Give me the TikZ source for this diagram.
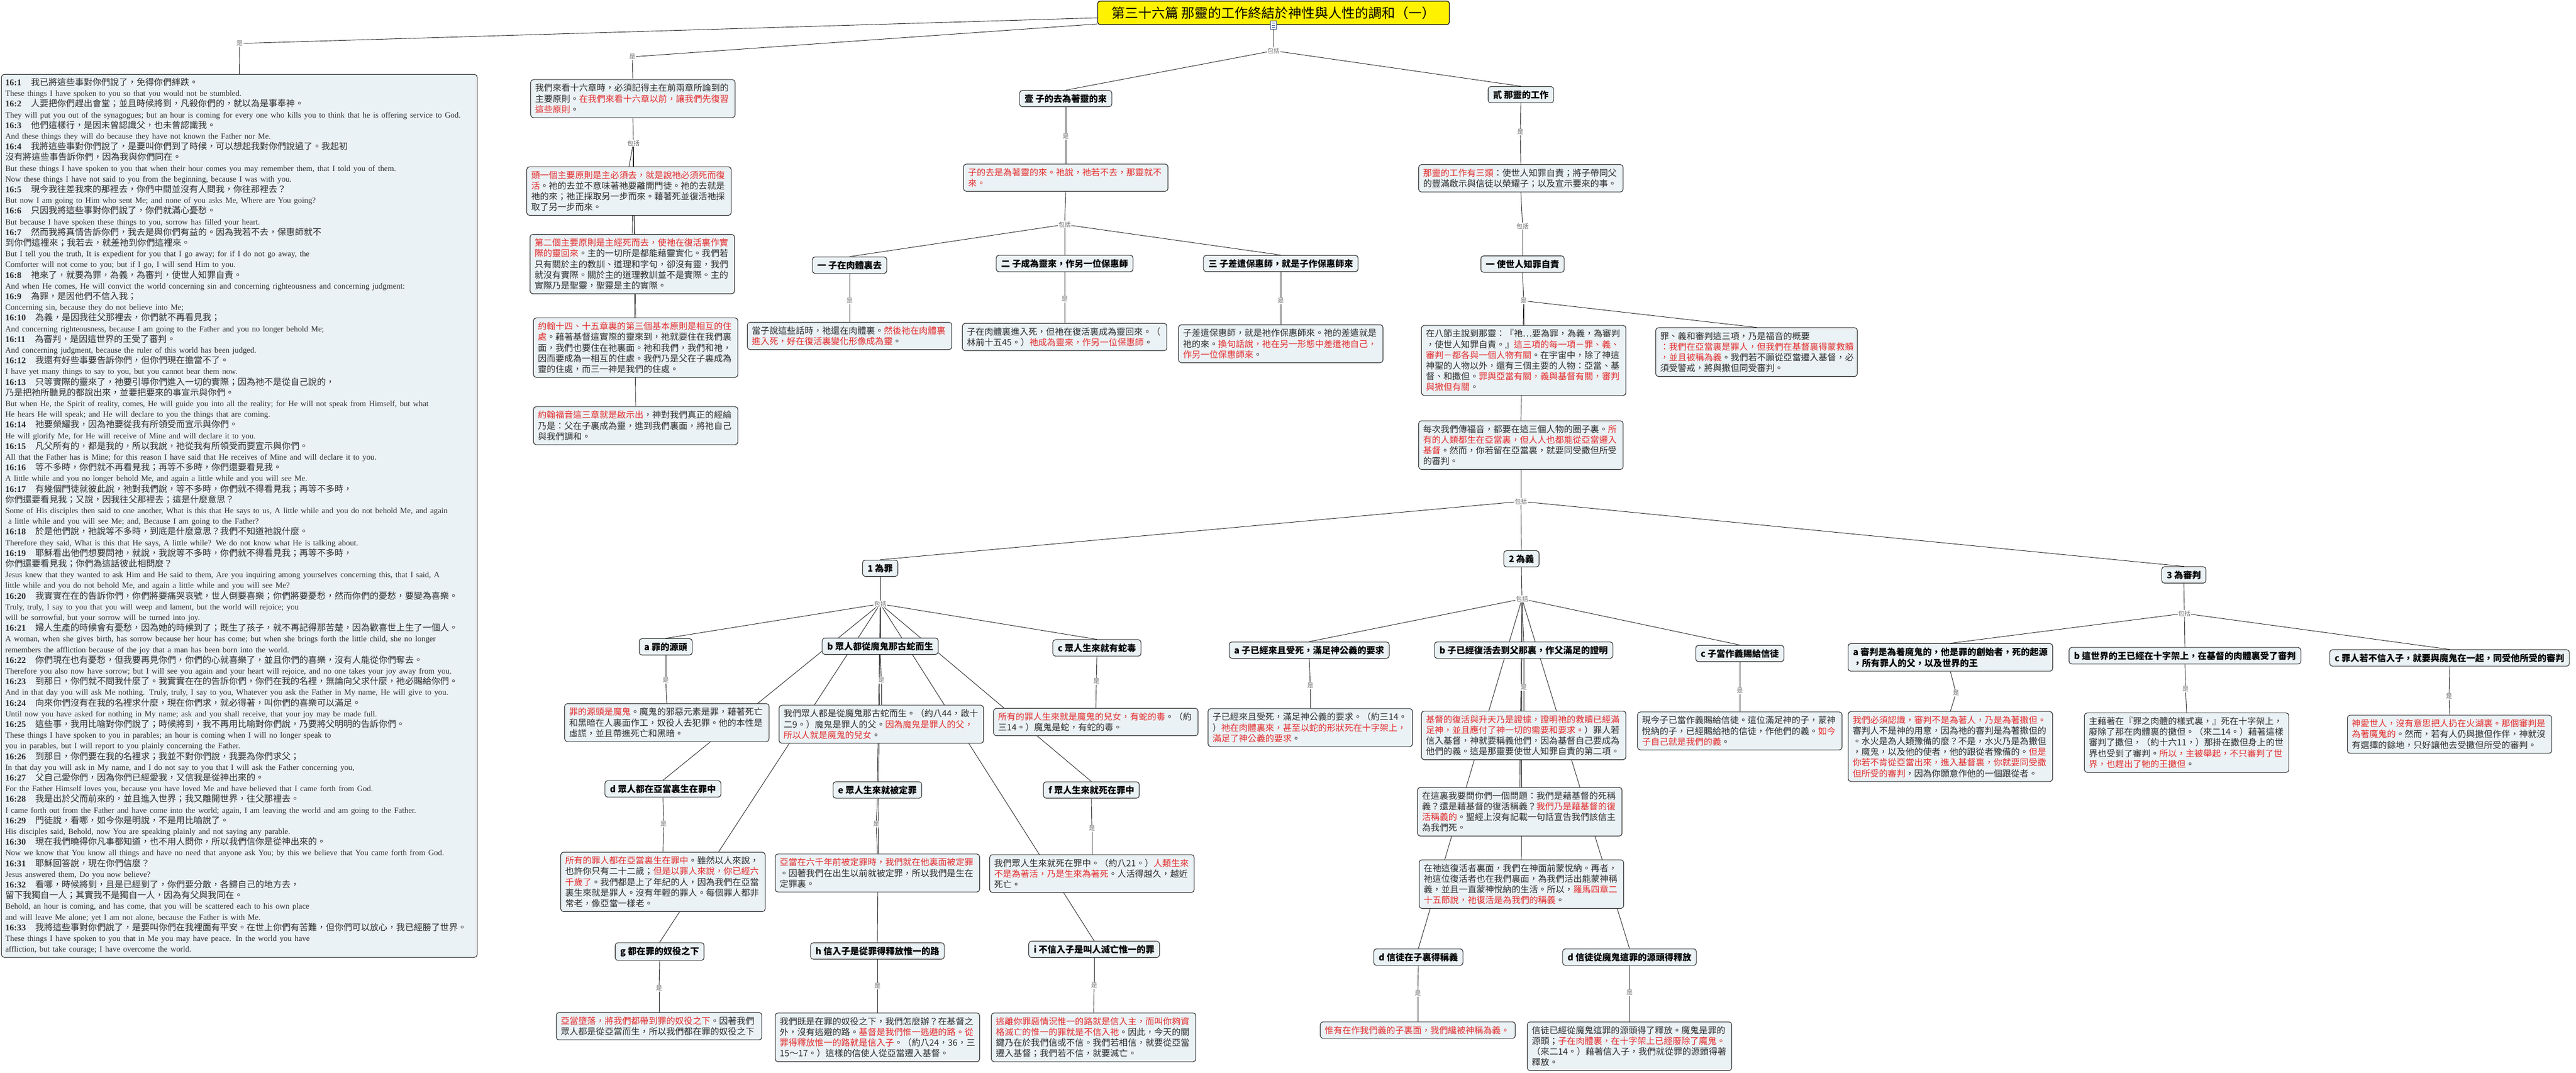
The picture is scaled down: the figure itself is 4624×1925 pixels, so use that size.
\documentclass[tikz,border=0pt]{standalone}
\usepackage{fontspec}
\setmainfont{Noto Sans CJK TC}
\newfontfamily\en{Liberation Serif}

\definecolor{boxfill}{RGB}{235,242,245}
\definecolor{boxline}{RGB}{45,45,45}
\definecolor{txt}{RGB}{45,45,45}
\definecolor{hlred}{RGB}{228,45,45}
\definecolor{lblgray}{RGB}{110,110,110}
\definecolor{linkgray}{RGB}{35,35,35}
\definecolor{iconblue}{RGB}{40,70,130}

\pgfdeclarelayer{bg}
\pgfsetlayers{bg,main}

% red passages and verse numbers
\newcommand\redtx[1]{{\color{hlred}#1}}
\newcommand\vnum[1]{{\en\bfseries #1}\hspace{17pt}}
\newcommand\entx[1]{{\en\fontsize{14.4}{19.2}\selectfont #1}}

\begin{document}
\begin{tikzpicture}[%
    x=1pt, y=-1pt,              % pixel grid, top-down
    ]
% -------------------------------------------------
% Box styles
\tikzset{
  descbox/.style={draw=boxline, fill=boxfill, rounded corners=5pt, line width=1.1pt,
    align=left, text=txt, inner xsep=8pt, inner ysep=7.5pt,
    font=\fontsize{15.8}{19.2}\selectfont, text width=#1},
  descbox/.default=351pt,
  headbox/.style={draw=boxline, fill=boxfill, rounded corners=5pt, line width=1.1pt,
    align=left, text=black, inner xsep=9pt, inner ysep=7pt,
    font=\bfseries\fontsize{16}{20}\selectfont},
  lbl/.style={fill=white, inner sep=1pt, text=lblgray, font=\fontsize{11}{12}\selectfont},
  link/.style={draw=linkgray, line width=0.9pt}
}
\useasboundingbox (0,0) rectangle (4624,1925);
% -------------------------------------------------
% Title
\node [draw=black, fill=yellow, rounded corners=4pt, line width=1.1pt,
  minimum width=631pt, minimum height=42pt, font=\fontsize{24}{28}\selectfont]
  (root) at (2286,23) {第三十六篇 那靈的工作終結於神性與人性的調和（一）};
\node [draw=iconblue, fill=white, minimum width=11pt, minimum height=15pt,
  inner sep=0pt, line width=0.8pt,
  path picture={\foreach \dy in {-4,0,4}
    \draw[iconblue, line width=0.7pt] ([xshift=2.5pt, yshift=\dy pt]path picture bounding box.west)
      -- ([xshift=-2.5pt, yshift=\dy pt]path picture bounding box.east);}]
  (note) at (2286,45) {};

% -------------------------------------------------
% Scripture text on the left
\node [lbl] (kv) at (430,78) {是};
\node [descbox=840pt, inner xsep=7pt, inner ysep=6.5pt, anchor=north west] (verses) at (2,133) {%
\vnum{16:1}我已將這些事對你們說了，免得你們絆跌。\\
\entx{These things I have spoken to you so that you would not be stumbled.}\\
\vnum{16:2}人要把你們趕出會堂；並且時候將到，凡殺你們的，就以為是事奉神。\\
\entx{They will put you out of the synagogues; but an hour is coming for every one who kills you to think that he is offering service to God.}\\
\vnum{16:3}他們這樣行，是因未曾認識父，也未曾認識我。\\
\entx{And these things they will do because they have not known the Father nor Me.}\\
\vnum{16:4}我將這些事對你們說了，是要叫你們到了時候，可以想起我對你們說過了。我起初\\
沒有將這些事告訴你們，因為我與你們同在。\\
\entx{But these things I have spoken to you that when their hour comes you may remember them, that I told you of them.}\\
\entx{Now these things I have not said to you from the beginning, because I was with you.}\\
\vnum{16:5}現今我往差我來的那裡去，你們中間並沒有人問我，你往那裡去？\\
\entx{But now I am going to Him who sent Me; and none of you asks Me, Where are You going?}\\
\vnum{16:6}只因我將這些事對你們說了，你們就滿心憂愁。\\
\entx{But because I have spoken these things to you, sorrow has filled your heart.}\\
\vnum{16:7}然而我將真情告訴你們，我去是與你們有益的。因為我若不去，保惠師就不\\
到你們這裡來；我若去，就差祂到你們這裡來。\\
\entx{But I tell you the truth, It is expedient for you that I go away; for if I do not go away, the}\\
\entx{Comforter will not come to you; but if I go, I will send Him to you.}\\
\vnum{16:8}祂來了，就要為罪，為義，為審判，使世人知罪自責。\\
\entx{And when He comes, He will convict the world concerning sin and concerning righteousness and concerning judgment:}\\
\vnum{16:9}為罪，是因他們不信入我；\\
\entx{Concerning sin, because they do not believe into Me;}\\
\vnum{16:10}為義，是因我往父那裡去，你們就不再看見我；\\
\entx{And concerning righteousness, because I am going to the Father and you no longer behold Me;}\\
\vnum{16:11}為審判，是因這世界的王受了審判。\\
\entx{And concerning judgment, because the ruler of this world has been judged.}\\
\vnum{16:12}我還有好些事要告訴你們，但你們現在擔當不了。\\
\entx{I have yet many things to say to you, but you cannot bear them now.}\\
\vnum{16:13}只等實際的靈來了，祂要引導你們進入一切的實際；因為祂不是從自己說的，\\
乃是把祂所聽見的都說出來，並要把要來的事宣示與你們。\\
\entx{But when He, the Spirit of reality, comes, He will guide you into all the reality; for He will not speak from Himself, but what}\\
\entx{He hears He will speak; and He will declare to you the things that are coming.}\\
\vnum{16:14}祂要榮耀我，因為祂要從我有所領受而宣示與你們。\\
\entx{He will glorify Me, for He will receive of Mine and will declare it to you.}\\
\vnum{16:15}凡父所有的，都是我的，所以我說，祂從我有所領受而要宣示與你們。\\
\entx{All that the Father has is Mine; for this reason I have said that He receives of Mine and will declare it to you.}\\
\vnum{16:16}等不多時，你們就不再看見我；再等不多時，你們還要看見我。\\
\entx{A little while and you no longer behold Me, and again a little while and you will see Me.}\\
\vnum{16:17}有幾個門徒就彼此說，祂對我們說，等不多時，你們就不得看見我；再等不多時，\\
你們還要看見我；又說，因我往父那裡去；這是什麼意思？\\
\entx{Some of His disciples then said to one another, What is this that He says to us, A little while and you do not behold Me, and again}\\
\entx{\ a little while and you will see Me; and, Because I am going to the Father?}\\
\vnum{16:18}於是他們說，祂說等不多時，到底是什麼意思？我們不知道祂說什麼。\\
\entx{Therefore they said, What is this that He says, A little while? We do not know what He is talking about.}\\
\vnum{16:19}耶穌看出他們想要問祂，就說，我說等不多時，你們就不得看見我；再等不多時，\\
你們還要看見我；你們為這話彼此相問麼？\\
\entx{Jesus knew that they wanted to ask Him and He said to them, Are you inquiring among yourselves concerning this, that I said, A}\\
\entx{little while and you do not behold Me, and again a little while and you will see Me?}\\
\vnum{16:20}我實實在在的告訴你們，你們將要痛哭哀號，世人倒要喜樂；你們將要憂愁，然而你們的憂愁，要變為喜樂。\\
\entx{Truly, truly, I say to you that you will weep and lament, but the world will rejoice; you}\\
\entx{will be sorrowful, but your sorrow will be turned into joy.}\\
\vnum{16:21}婦人生產的時候會有憂愁，因為她的時候到了；既生了孩子，就不再記得那苦楚，因為歡喜世上生了一個人。\\
\entx{A woman, when she gives birth, has sorrow because her hour has come; but when she brings forth the little child, she no longer}\\
\entx{remembers the affliction because of the joy that a man has been born into the world.}\\
\vnum{16:22}你們現在也有憂愁，但我要再見你們，你們的心就喜樂了，並且你們的喜樂，沒有人能從你們奪去。\\
\entx{Therefore you also now have sorrow; but I will see you again and your heart will rejoice, and no one takes your joy away from you.}\\
\vnum{16:23}到那日，你們就不問我什麼了。我實實在在的告訴你們，你們在我的名裡，無論向父求什麼，祂必賜給你們。\\
\entx{And in that day you will ask Me nothing. Truly, truly, I say to you, Whatever you ask the Father in My name, He will give to you.}\\
\vnum{16:24}向來你們沒有在我的名裡求什麼，現在你們求，就必得著，叫你們的喜樂可以滿足。\\
\entx{Until now you have asked for nothing in My name; ask and you shall receive, that your joy may be made full.}\\
\vnum{16:25}這些事，我用比喻對你們說了；時候將到，我不再用比喻對你們說，乃要將父明明的告訴你們。\\
\entx{These things I have spoken to you in parables; an hour is coming when I will no longer speak to}\\
\entx{you in parables, but I will report to you plainly concerning the Father.}\\
\vnum{16:26}到那日，你們要在我的名裡求；我並不對你們說，我要為你們求父；\\
\entx{In that day you will ask in My name, and I do not say to you that I will ask the Father concerning you,}\\
\vnum{16:27}父自己愛你們，因為你們已經愛我，又信我是從神出來的。\\
\entx{For the Father Himself loves you, because you have loved Me and have believed that I came forth from God.}\\
\vnum{16:28}我是出於父而前來的，並且進入世界；我又離開世界，往父那裡去。\\
\entx{I came forth out from the Father and have come into the world; again, I am leaving the world and am going to the Father.}\\
\vnum{16:29}門徒說，看哪，如今你是明說，不是用比喻說了。\\
\entx{His disciples said, Behold, now You are speaking plainly and not saying any parable.}\\
\vnum{16:30}現在我們曉得你凡事都知道，也不用人問你，所以我們信你是從神出來的。\\
\entx{Now we know that You know all things and have no need that anyone ask You; by this we believe that You came forth from God.}\\
\vnum{16:31}耶穌回答說，現在你們信麼？\\
\entx{Jesus answered them, Do you now believe?}\\
\vnum{16:32}看哪，時候將到，且是已經到了，你們要分散，各歸自己的地方去，\\
留下我獨自一人；其實我不是獨自一人，因為有父與我同在。\\
\entx{Behold, an hour is coming, and has come, that you will be scattered each to his own place}\\
\entx{and will leave Me alone; yet I am not alone, because the Father is with Me.}\\
\vnum{16:33}我將這些事對你們說了，是要叫你們在我裡面有平安。在世上你們有苦難，但你們可以放心，我已經勝了世界。\\
\entx{These things I have spoken to you that in Me you may have peace. In the world you have}\\
\entx{affliction, but take courage; I have overcome the world.}};

% -------------------------------------------------
% Principles column
\node [lbl] (kq) at (1135,102) {是};
\node [descbox] (p1) at (1136,177) {我們來看十六章時，必須記得主在前兩章所論到的\\
主要原則。\redtx{在我們來看十六章以前，讓我們先復習}\\
\redtx{這些原則}。};
\node [lbl] (kp) at (1137,257) {包括};
\node [descbox] (p2) at (1129,343) {\redtx{頭一個主要原則是主必須去，就是說祂必須死而復}\\
\redtx{活}。祂的去並不意味著祂要離開門徒。祂的去就是\\
祂的來；祂正採取另一步而來。藉著死並復活祂採\\
取了另一步而來。};
\node [descbox] (p3) at (1135,474) {\redtx{第二個主要原則是主經死而去，使祂在復活裏作實}\\
\redtx{際的靈回來}。主的一切所是都能藉靈實化。我們若\\
只有關於主的教訓、道理和字句，卻沒有靈，我們\\
就沒有實際。關於主的道理教訓並不是實際。主的\\
實際乃是聖靈，聖靈是主的實際。};
\node [descbox] (p4) at (1141,624) {\redtx{約翰十四、十五章裏的第三個基本原則是相互的住}\\
\redtx{處}。藉著基督這實際的靈來到，祂就要住在我們裏\\
面，我們也要住在祂裏面。祂和我們，我們和祂，\\
因而要成為一相互的住處。我們乃是父在子裏成為\\
靈的住處，而三一神是我們的住處。};
\node [descbox] (p5) at (1141,764) {\redtx{約翰福音這三章就是啟示出}，神對我們真正的經綸\\
乃是：父在子裏成為靈，進到我們裏面，將祂自己\\
與我們調和。};

% -------------------------------------------------
% 壹  the Son's going
\node [lbl] (k0) at (2286,91) {包括};
\node [headbox] (s1) at (1913,177) {壹 子的去為著靈的來};
\node [lbl] (k1) at (1913,245) {是};
\node [descbox] (s1d) at (1913,319) {\redtx{子的去是為著靈的來。祂說，祂若不去，那靈就不}\\
\redtx{來。}};
\node [lbl] (k2) at (1911,403) {包括};
\node [headbox] (s11) at (1525,476) {一 子在肉體裏去};
\node [headbox] (s12) at (1911,473) {二 子成為靈來，作另一位保惠師};
\node [headbox] (s13) at (2299,473) {三 子差遣保惠師，就是子作保惠師來};
\node [lbl] (k3) at (1525,540) {是};
\node [lbl] (k4) at (1911,537) {是};
\node [lbl] (k5) at (2299,540) {是};
\node [descbox] (s11d) at (1525,603) {當子說這些話時，祂還在肉體裏。\redtx{然後祂在肉體裏}\\
\redtx{進入死，好在復活裏變化形像成為靈}。};
\node [descbox] (s12d) at (1911,605) {子在肉體裏進入死，但祂在復活裏成為靈回來。（\\
林前十五45。）\redtx{祂成為靈來，作另一位保惠師}。};
\node [descbox] (s13d) at (2299,617) {子差遣保惠師，就是祂作保惠師來。祂的差遣就是\\
祂的來。\redtx{換句話說，祂在另一形態中差遣祂自己，}\\
\redtx{作另一位保惠師來}。};

% -------------------------------------------------
% 貳  the Spirit's work
\node [headbox] (s2) at (2730,170) {貳 那靈的工作};
\node [lbl] (k6) at (2729,237) {是};
\node [descbox] (s2d) at (2730,320) {\redtx{那靈的工作有三類}：使世人知罪自責；將子帶同父\\
的豐滿啟示與信徒以榮耀子；以及宣示要來的事。};
\node [lbl] (k7) at (2733,406) {包括};
\node [headbox] (w1) at (2733,474) {一 使世人知罪自責};
\node [lbl] (k8) at (2735,540) {是};
\node [descbox] (w1a) at (2735,647) {在八節主說到那靈：『祂…要為罪，為義，為審判\\
，使世人知罪自責。』\redtx{這三項的每一項－罪、義、}\\
\redtx{審判－都各與一個人物有關}。在宇宙中，除了神這\\
神聖的人物以外，還有三個主要的人物：亞當、基\\
督、和撒但。\redtx{罪與亞當有關，義與基督有關，審判}\\
\redtx{與撒但有關}。};
\node [descbox=346pt] (w1b) at (3153,632) {罪、義和審判這三項，乃是福音的概要\\
\redtx{：我們在亞當裏是罪人，但我們在基督裏得蒙救贖}\\
\redtx{，並且被稱為義}。我們若不願從亞當遷入基督，必\\
須受警戒，將與撒但同受審判。};
\node [descbox] (w1c) at (2730,799) {每次我們傳福音，都要在這三個人物的圈子裏。\redtx{所}\\
\redtx{有的人類都生在亞當裏，但人人也都能從亞當遷入}\\
\redtx{基督}。然而，你若留在亞當裏，就要同受撒但所受\\
的審判。};
\node [lbl] (k9) at (2730,900) {包括};

% -------------------------------------------------
% 1 為罪
\node [headbox] (sin) at (1580,1020) {1 為罪};
\node [lbl] (ks) at (1580,1084) {包括};
\node [headbox] (sa) at (1195,1161) {a 罪的源頭};
\node [headbox] (sb) at (1580,1160) {b 眾人都從魔鬼那古蛇而生};
\node [headbox] (sc) at (1969,1163) {c 眾人生來就有蛇毒};
\node [lbl] (ksa) at (1195,1221) {是};
\node [lbl] (ksb) at (1582,1221) {是};
\node [lbl] (ksc) at (1968,1223) {是};
\node [descbox] (sad) at (1197,1297) {\redtx{罪的源頭是魔鬼}。魔鬼的邪惡元素是罪，藉著死亡\\
和黑暗在人裏面作工，奴役人去犯罪。他的本性是\\
虛謊，並且帶進死亡和黑暗。};
\node [descbox] (sbd) at (1582,1300) {我們眾人都是從魔鬼那古蛇而生。（約八44，啟十\\
二9。）魔鬼是罪人的父。\redtx{因為魔鬼是罪人的父，}\\
\redtx{所以人就是魔鬼的兒女}。};
\node [descbox] (scd) at (1967,1296) {\redtx{所有的罪人生來就是魔鬼的兒女，有蛇的毒}。（約\\
三14。）魔鬼是蛇，有蛇的毒。};
\node [headbox] (sd) at (1190,1416) {d 眾人都在亞當裏生在罪中};
\node [headbox] (se) at (1575,1418) {e 眾人生來就被定罪};
\node [headbox] (sf) at (1959,1418) {f 眾人生來就死在罪中};
\node [lbl] (ksd) at (1191,1479) {是};
\node [lbl] (kse) at (1573,1479) {是};
\node [lbl] (ksf) at (1960,1487) {是};
\node [descbox] (sdd) at (1190,1583) {\redtx{所有的罪人都在亞當裏生在罪中}。雖然以人來說，\\
也許你只有二十二歲；\redtx{但是以罪人來說，你已經六}\\
\redtx{千歲了}。我們都是上了年紀的人，因為我們在亞當\\
裏生來就是罪人。沒有年輕的罪人。每個罪人都非\\
常老，像亞當一樣老。};
\node [descbox] (sed) at (1575,1567) {\redtx{亞當在六千年前被定罪時，我們就在他裏面被定罪}\\
。因著我們在出生以前就被定罪，所以我們是生在\\
定罪裏。};
\node [descbox] (sfd) at (1960,1568) {我們眾人生來就死在罪中。（約八21。）\redtx{人類生來}\\
\redtx{不是為著活，乃是生來為著死}。人活得越久，越近\\
死亡。};
\node [headbox] (sg) at (1184,1708) {g 都在罪的奴役之下};
\node [headbox] (sh) at (1575,1707) {h 信入子是從罪得釋放惟一的路};
\node [headbox] (si) at (1964,1704) {i 不信入子是叫人滅亡惟一的罪};
\node [lbl] (ksg) at (1183,1774) {是};
\node [lbl] (ksh) at (1575,1770) {是};
\node [lbl] (ksi) at (1964,1769) {是};
\node [descbox=353pt] (sgd) at (1183,1842) {\redtx{亞當墮落，將我們都帶到罪的奴役之下}。因著我們\\
眾人都是從亞當而生，所以我們都在罪的奴役之下};
\node [descbox] (shd) at (1575,1862) {我們既是在罪的奴役之下，我們怎麼辦？在基督之\\
外，沒有逃避的路。\redtx{基督是我們惟一逃避的路。從}\\
\redtx{罪得釋放惟一的路就是信入子}。（約八24，36，三\\
15～17。）這樣的信使人從亞當遷入基督。};
\node [descbox] (sid) at (1963,1862) {\redtx{逃離你罪惡情況惟一的路就是信入主，而叫你夠資}\\
\redtx{格滅亡的惟一的罪就是不信入祂}。因此，今天的關\\
鍵乃在於我們信或不信。我們若相信，就要從亞當\\
遷入基督；我們若不信，就要滅亡。};

% -------------------------------------------------
% 2 為義
\node [headbox] (rt) at (2731,1003) {2 為義};
\node [lbl] (kr) at (2732,1075) {包括};
\node [headbox] (ra) at (2350,1167) {a 子已經來且受死，滿足神公義的要求};
\node [headbox] (rb) at (2735,1167) {b 子已經復活去到父那裏，作父滿足的證明};
\node [headbox] (rc) at (3123,1173) {c 子當作義賜給信徒};
\node [lbl] (kra) at (2352,1231) {是};
\node [lbl] (krb) at (2735,1234) {是};
\node [lbl] (krc) at (3123,1240) {是};
\node [descbox] (rad) at (2352,1306) {子已經來且受死，滿足神公義的要求。（約三14。\\
）\redtx{祂在肉體裏來，甚至以蛇的形狀死在十字架上，}\\
\redtx{滿足了神公義的要求}。};
\node [descbox] (rbd) at (2735,1320) {\redtx{基督的復活與升天乃是證據，證明祂的救贖已經滿}\\
\redtx{足神，並且應付了神一切的需要和要求。}）罪人若\\
信入基督，神就要稱義他們，因為基督自己要成為\\
他們的義。這是那靈要使世人知罪自責的第二項。};
\node [descbox] (rcd) at (3123,1312) {現今子已當作義賜給信徒。這位滿足神的子，蒙神\\
悅納的子，已經賜給祂的信徒，作他們的義。\redtx{如今}\\
\redtx{子自己就是我們的義}。};
\node [descbox] (rD) at (2728,1457) {在這裏我要問你們一個問題：我們是藉基督的死稱\\
義？還是藉基督的復活稱義？\redtx{我們乃是藉基督的復}\\
\redtx{活稱義的}。聖經上沒有記載一句話宣告我們該信主\\
為我們死。};
\node [descbox] (rE) at (2731,1587) {在祂這復活者裏面，我們在神面前蒙悅納。再者，\\
祂這位復活者也在我們裏面，為我們活出能蒙神稱\\
義，並且一直蒙神悅納的生活。所以，\redtx{羅馬四章二}\\
\redtx{十五節說，祂復活是為我們的稱義}。};
\node [headbox] (rd1) at (2546,1718) {d 信徒在子裏得稱義};
\node [headbox] (rd2) at (2925,1718) {d 信徒從魔鬼這罪的源頭得釋放};
\node [lbl] (krd1) at (2545,1783) {是};
\node [lbl] (krd2) at (2925,1782) {是};
\node [descbox=334pt] (rd1d) at (2545,1849) {\redtx{惟有在作我們義的子裏面，我們纔被神稱為義。}};
\node [descbox] (rd2d) at (2925,1878) {信徒已經從魔鬼這罪的源頭得了釋放。魔鬼是罪的\\
源頭；\redtx{子在肉體裏，在十字架上已經廢除了魔鬼。}\\
（來二14。）藉著信入子，我們就從罪的源頭得著\\
釋放。};

% -------------------------------------------------
% 3 為審判
\node [headbox] (jd) at (3920,1032) {3 為審判};
\node [lbl] (kj) at (3921,1101) {包括};
\node [headbox] (ja) at (3501,1180) {a 審判是為着魔鬼的，他是罪的創始者，死的起源\\
，所有罪人的父，以及世界的王};
\node [headbox] (jb) at (3922,1177) {b 這世界的王已經在十字架上，在基督的肉體裏受了審判};
\node [headbox] (jc) at (4397,1181) {c 罪人若不信入子，就要與魔鬼在一起，同受他所受的審判};
\node [lbl] (kja) at (3511,1244) {是};
\node [lbl] (kjb) at (3923,1237) {是};
\node [lbl] (kjc) at (4396,1250) {是};
\node [descbox] (jad) at (3501,1340) {\redtx{我們必須認識，審判不是為著人，乃是為著撒但。}\\
審判人不是神的用意，因為祂的審判是為著撒但的\\
。水火是為人類豫備的麼？不是，水火乃是為撒但\\
，魔鬼，以及他的使者，他的跟從者豫備的。\redtx{但是}\\
\redtx{你若不肯從亞當出來，進入基督裏，你就要同受撒}\\
\redtx{但所受的審判}，因為你願意作他的一個跟從者。};
\node [descbox] (jbd) at (3925,1333) {主藉著在『罪之肉體的樣式裏，』死在十字架上，\\
廢除了那在肉體裏的撒但。（來二14。）藉著這樣\\
審判了撒但，（約十六11，）那掛在撒但身上的世\\
界也受到了審判。\redtx{所以，主被舉起，不只審判了世}\\
\redtx{界，也趕出了牠的王撒但}。};
\node [descbox] (jcd) at (4397,1318) {\redtx{神愛世人，沒有意思把人扔在火湖裏。那個審判是}\\
\redtx{為著魔鬼的}。然而，若有人仍與撒但作伴，神就沒\\
有選擇的餘地，只好讓他去受撒但所受的審判。};

% -------------------------------------------------
% Connectors, behind the boxes
\begin{pgfonlayer}{bg}
\draw [link] ([yshift=-9pt]root.west) -- (kv);
\draw [link] ([yshift=-20pt]root.west) -- (kq);
% parent -> label
\foreach \a/\b in {note/k0, s1/k1, s1d/k2, s11/k3, s12/k4, s13/k5,
    s2/k6, s2d/k7, w1/k8, w1c/k9, p1/kp,
    sin/ks, sa/ksa, sb/ksb, sc/ksc, sd/ksd, se/kse, sf/ksf, sg/ksg, sh/ksh, si/ksi,
    rt/kr, ra/kra, rb/krb, rc/krc, rd1/krd1, rd2/krd2,
    jd/kj, ja/kja, jb/kjb, jc/kjc}
  \draw [link] (\a.south) -- (\b);
% label -> child
\foreach \a/\b in {kv/verses, kq/p1, kp/p2, kp/p3, kp/p4, kp/p5,
    k0/s1, k0/s2, k1/s1d, k2/s11, k2/s12, k2/s13, k3/s11d, k4/s12d, k5/s13d,
    k6/s2d, k7/w1, k8/w1a, k8/w1b, k8/w1c, k9/sin, k9/rt, k9/jd,
    ks/sa, ks/sb, ks/sc, ks/sd, ks/se, ks/sf, ks/sg, ks/sh, ks/si,
    ksa/sad, ksb/sbd, ksc/scd, ksd/sdd, kse/sed, ksf/sfd, ksg/sgd, ksh/shd, ksi/sid,
    kr/ra, kr/rb, kr/rc, kr/rD, kr/rE, kr/rd1, kr/rd2,
    kra/rad, krb/rbd, krc/rcd, krd1/rd1d, krd2/rd2d,
    kj/ja, kj/jb, kj/jc, kja/jad, kjb/jbd, kjc/jcd}
  \draw [link] (\a) -- (\b.north);
\end{pgfonlayer}
% -------------------------------------------------
\end{tikzpicture}
\end{document}
